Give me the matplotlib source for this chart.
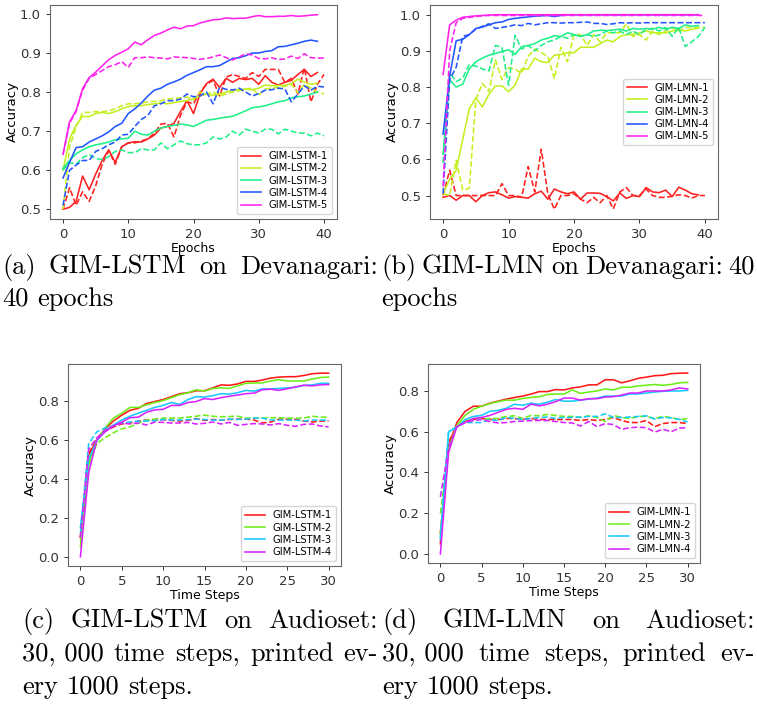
import numpy as np
import matplotlib.pyplot as plt

W, H = 757, 704

# Devanagari, GIM-LSTM (solid = train, dashed = test)
dev_lstm_train = [
    [0.500, 0.505, 0.520, 0.585, 0.550, 0.590, 0.625, 0.652, 0.620, 0.660,
     0.670, 0.673, 0.672, 0.680, 0.690, 0.708, 0.712, 0.720, 0.750, 0.778,
     0.745, 0.795, 0.822, 0.833, 0.812, 0.835, 0.825, 0.835, 0.832, 0.835,
     0.820, 0.842, 0.825, 0.818, 0.825, 0.830, 0.845, 0.858, 0.840, 0.850],
    [0.600, 0.680, 0.715, 0.738, 0.737, 0.745, 0.748, 0.745, 0.750, 0.757,
     0.763, 0.765, 0.765, 0.768, 0.770, 0.772, 0.770, 0.773, 0.776, 0.778,
     0.783, 0.790, 0.795, 0.792, 0.795, 0.800, 0.805, 0.806, 0.808, 0.806,
     0.810, 0.818, 0.816, 0.817, 0.817, 0.822, 0.833, 0.826, 0.820, 0.823],
    [0.605, 0.625, 0.642, 0.652, 0.660, 0.665, 0.668, 0.672, 0.678, 0.680,
     0.682, 0.700, 0.692, 0.690, 0.700, 0.708, 0.712, 0.715, 0.718, 0.716,
     0.712, 0.720, 0.728, 0.730, 0.733, 0.736, 0.738, 0.745, 0.752, 0.760,
     0.762, 0.765, 0.770, 0.775, 0.778, 0.785, 0.788, 0.790, 0.795, 0.800],
    [0.580, 0.620, 0.658, 0.660, 0.672, 0.680, 0.688, 0.698, 0.712, 0.720,
     0.745, 0.757, 0.772, 0.790, 0.805, 0.810, 0.820, 0.826, 0.833, 0.843,
     0.850, 0.857, 0.865, 0.865, 0.868, 0.877, 0.886, 0.888, 0.893, 0.900,
     0.900, 0.904, 0.906, 0.916, 0.917, 0.921, 0.925, 0.930, 0.933, 0.930],
    [0.641, 0.724, 0.753, 0.809, 0.837, 0.851, 0.867, 0.883, 0.894, 0.902,
     0.911, 0.928, 0.921, 0.934, 0.945, 0.951, 0.959, 0.966, 0.962, 0.969,
     0.970, 0.977, 0.981, 0.985, 0.986, 0.990, 0.988, 0.989, 0.989, 0.993,
     0.996, 0.993, 0.993, 0.994, 0.994, 0.996, 0.994, 0.995, 0.997, 0.998],
]
dev_lstm_test = [
    [0.500, 0.555, 0.510, 0.545, 0.520, 0.560, 0.615, 0.650, 0.615, 0.660,
     0.670, 0.670, 0.675, 0.680, 0.695, 0.718, 0.720, 0.685, 0.740, 0.775,
     0.770, 0.800, 0.820, 0.830, 0.790, 0.838, 0.845, 0.840, 0.835, 0.850,
     0.840, 0.858, 0.858, 0.858, 0.825, 0.835, 0.795, 0.862, 0.775, 0.820, 0.845],
    [0.500, 0.660, 0.710, 0.748, 0.748, 0.750, 0.750, 0.752, 0.757, 0.765,
     0.770, 0.770, 0.772, 0.775, 0.776, 0.778, 0.782, 0.784, 0.785, 0.787,
     0.780, 0.800, 0.795, 0.800, 0.790, 0.795, 0.800, 0.803, 0.808, 0.810,
     0.792, 0.808, 0.810, 0.812, 0.815, 0.820, 0.798, 0.820, 0.810, 0.800, 0.795],
    [0.600, 0.620, 0.615, 0.632, 0.640, 0.630, 0.627, 0.635, 0.648, 0.652,
     0.645, 0.645, 0.655, 0.652, 0.652, 0.670, 0.655, 0.665, 0.675, 0.668,
     0.665, 0.665, 0.670, 0.685, 0.680, 0.685, 0.700, 0.690, 0.705, 0.700,
     0.695, 0.705, 0.705, 0.693, 0.705, 0.700, 0.695, 0.695, 0.688, 0.695, 0.688],
    [0.510, 0.600, 0.613, 0.625, 0.625, 0.648, 0.655, 0.665, 0.672, 0.690,
     0.692, 0.712, 0.730, 0.740, 0.765, 0.770, 0.778, 0.778, 0.782, 0.795,
     0.788, 0.790, 0.800, 0.770, 0.812, 0.807, 0.805, 0.810, 0.800, 0.790,
     0.796, 0.805, 0.806, 0.810, 0.808, 0.775, 0.795, 0.816, 0.805, 0.815, 0.813],
    [0.640, 0.720, 0.750, 0.805, 0.835, 0.845, 0.855, 0.865, 0.870, 0.878,
     0.863, 0.888, 0.888, 0.890, 0.888, 0.887, 0.885, 0.890, 0.889, 0.888,
     0.886, 0.884, 0.886, 0.890, 0.895, 0.888, 0.882, 0.890, 0.898, 0.895,
     0.886, 0.885, 0.888, 0.883, 0.885, 0.892, 0.886, 0.898, 0.888, 0.887, 0.887],
]

# Devanagari, GIM-LMN
dev_lmn_train = [
    [0.495, 0.500, 0.487, 0.500, 0.500, 0.483, 0.500, 0.508, 0.510, 0.502,
     0.493, 0.497, 0.495, 0.493, 0.505, 0.512, 0.490, 0.518, 0.510, 0.505,
     0.510, 0.490, 0.507, 0.507, 0.506, 0.497, 0.485, 0.507, 0.492, 0.500,
     0.497, 0.522, 0.510, 0.508, 0.515, 0.497, 0.523, 0.515, 0.505, 0.502],
    [0.505, 0.545, 0.570, 0.655, 0.740, 0.770, 0.745, 0.780, 0.803, 0.803,
     0.787, 0.805, 0.850, 0.850, 0.880, 0.870, 0.868, 0.888, 0.890, 0.895,
     0.895, 0.910, 0.910, 0.910, 0.920, 0.930, 0.925, 0.940, 0.945, 0.945,
     0.950, 0.955, 0.950, 0.950, 0.950, 0.955, 0.958, 0.955, 0.960, 0.963],
    [0.615, 0.820, 0.800, 0.808, 0.850, 0.870, 0.880, 0.888, 0.893, 0.898,
     0.903, 0.890, 0.912, 0.915, 0.920, 0.930, 0.935, 0.942, 0.940, 0.950,
     0.945, 0.940, 0.945, 0.955, 0.957, 0.956, 0.958, 0.960, 0.955, 0.962,
     0.960, 0.962, 0.960, 0.965, 0.960, 0.965, 0.962, 0.972, 0.968, 0.970],
    [0.670, 0.830, 0.928, 0.932, 0.945, 0.962, 0.966, 0.972, 0.978, 0.980,
     0.987, 0.990, 0.992, 0.994, 0.996, 0.997, 0.998, 0.995, 0.998, 1.000,
     1.000, 1.000, 1.000, 1.000, 1.000, 1.000, 1.000, 1.000, 1.000, 1.000,
     1.000, 1.000, 1.000, 1.000, 1.000, 1.000, 1.000, 1.000, 1.000, 1.000],
    [0.835, 0.972, 0.985, 0.993, 0.995, 0.997, 0.998, 0.999, 1.000, 1.000,
     1.000, 1.000, 1.000, 1.000, 1.000, 1.000, 1.000, 1.000, 1.000, 1.000,
     1.000, 1.000, 1.000, 1.000, 1.000, 1.000, 1.000, 1.000, 1.000, 1.000,
     1.000, 1.000, 1.000, 1.000, 1.000, 1.000, 1.000, 1.000, 1.000, 1.000],
]
dev_lmn_test = [
    [0.500, 0.570, 0.500, 0.500, 0.500, 0.500, 0.500, 0.500, 0.500, 0.533,
     0.500, 0.500, 0.495, 0.580, 0.510, 0.628, 0.505, 0.462, 0.500, 0.500,
     0.505, 0.490, 0.480, 0.495, 0.480, 0.500, 0.463, 0.510, 0.522, 0.500,
     0.500, 0.518, 0.500, 0.495, 0.495, 0.498, 0.502, 0.500, 0.493, 0.500, 0.500],
    [0.505, 0.500, 0.598, 0.515, 0.520, 0.765, 0.810, 0.788, 0.875, 0.820,
     0.853, 0.850, 0.838, 0.885, 0.905, 0.895, 0.885, 0.823, 0.910, 0.870,
     0.945, 0.945, 0.915, 0.945, 0.925, 0.950, 0.950, 0.950, 0.975, 0.940,
     0.945, 0.930, 0.955, 0.945, 0.955, 0.965, 0.955, 0.965, 0.965, 0.965, 0.965],
    [0.590, 0.840, 0.815, 0.825, 0.862, 0.858, 0.850, 0.845, 0.915, 0.910,
     0.805, 0.943, 0.905, 0.915, 0.900, 0.915, 0.925, 0.930, 0.940, 0.935,
     0.945, 0.940, 0.945, 0.940, 0.945, 0.955, 0.950, 0.955, 0.945, 0.955,
     0.945, 0.960, 0.962, 0.955, 0.965, 0.940, 0.965, 0.912, 0.925, 0.940, 0.965],
    [0.505, 0.820, 0.855, 0.940, 0.945, 0.960, 0.968, 0.975, 0.962, 0.965,
     0.968, 0.972, 0.970, 0.976, 0.972, 0.975, 0.978, 0.978, 0.977, 0.978,
     0.978, 0.979, 0.980, 0.976, 0.976, 0.973, 0.975, 0.978, 0.977, 0.978,
     0.977, 0.978, 0.978, 0.978, 0.978, 0.978, 0.978, 0.978, 0.978, 0.978, 0.978],
    [0.525, 0.900, 0.978, 0.990, 0.993, 0.995, 0.997, 0.998, 0.998, 0.998,
     0.998, 0.998, 0.998, 0.998, 0.998, 0.998, 0.998, 0.998, 0.998, 0.998,
     0.998, 0.998, 0.998, 0.998, 0.998, 0.998, 0.998, 0.998, 0.998, 0.998,
     0.998, 0.998, 0.998, 0.998, 0.998, 0.998, 0.998, 0.998, 0.998, 0.998, 0.998],
]

# Audioset, GIM-LSTM
aud_lstm_train = [
    [0.100, 0.520, 0.600, 0.655, 0.695, 0.725, 0.750, 0.760, 0.785, 0.795,
     0.805, 0.820, 0.835, 0.840, 0.850, 0.850, 0.865, 0.880, 0.878, 0.885,
     0.898, 0.898, 0.905, 0.915, 0.920, 0.922, 0.922, 0.928, 0.937, 0.940, 0.940],
    [0.050, 0.480, 0.600, 0.660, 0.710, 0.735, 0.765, 0.765, 0.778, 0.790,
     0.800, 0.815, 0.830, 0.840, 0.855, 0.848, 0.862, 0.865, 0.862, 0.875,
     0.888, 0.890, 0.890, 0.900, 0.907, 0.900, 0.900, 0.900, 0.910, 0.918, 0.920],
    [0.150, 0.500, 0.595, 0.645, 0.675, 0.700, 0.720, 0.735, 0.750, 0.765,
     0.775, 0.790, 0.780, 0.805, 0.820, 0.818, 0.825, 0.835, 0.833, 0.840,
     0.852, 0.848, 0.860, 0.860, 0.862, 0.865, 0.868, 0.878, 0.880, 0.888, 0.888],
    [0.000, 0.430, 0.600, 0.640, 0.670, 0.690, 0.712, 0.715, 0.740, 0.752,
     0.755, 0.775, 0.775, 0.790, 0.795, 0.810, 0.805, 0.815, 0.822, 0.828,
     0.835, 0.838, 0.855, 0.858, 0.852, 0.860, 0.870, 0.878, 0.875, 0.880, 0.882],
]
aud_lstm_test = [
    [0.100, 0.530, 0.600, 0.645, 0.665, 0.680, 0.685, 0.695, 0.700, 0.700,
     0.702, 0.698, 0.695, 0.698, 0.708, 0.698, 0.703, 0.700, 0.703, 0.705,
     0.705, 0.700, 0.685, 0.690, 0.705, 0.705, 0.703, 0.695, 0.690, 0.695, 0.695],
    [0.080, 0.470, 0.580, 0.610, 0.635, 0.655, 0.665, 0.685, 0.700, 0.705,
     0.710, 0.710, 0.710, 0.715, 0.720, 0.725, 0.720, 0.717, 0.718, 0.720,
     0.710, 0.710, 0.710, 0.712, 0.712, 0.710, 0.710, 0.710, 0.720, 0.715, 0.715],
    [0.120, 0.580, 0.640, 0.660, 0.670, 0.685, 0.690, 0.695, 0.695, 0.697,
     0.703, 0.700, 0.700, 0.702, 0.705, 0.703, 0.700, 0.700, 0.705, 0.703,
     0.705, 0.710, 0.710, 0.700, 0.700, 0.700, 0.700, 0.695, 0.700, 0.700, 0.700],
    [0.100, 0.550, 0.610, 0.650, 0.670, 0.685, 0.680, 0.685, 0.675, 0.690,
     0.688, 0.685, 0.685, 0.688, 0.680, 0.683, 0.690, 0.680, 0.688, 0.673,
     0.678, 0.682, 0.680, 0.675, 0.682, 0.673, 0.668, 0.678, 0.680, 0.670, 0.665],
]

# Audioset, GIM-LMN
aud_lmn_train = [
    [0.050, 0.530, 0.645, 0.700, 0.725, 0.725, 0.740, 0.750, 0.760, 0.768,
     0.775, 0.785, 0.797, 0.797, 0.807, 0.805, 0.815, 0.820, 0.830, 0.830,
     0.855, 0.855, 0.840, 0.850, 0.862, 0.868, 0.875, 0.877, 0.885, 0.887, 0.888],
    [0.100, 0.520, 0.630, 0.680, 0.710, 0.725, 0.738, 0.748, 0.755, 0.755,
     0.763, 0.768, 0.772, 0.783, 0.785, 0.785, 0.805, 0.788, 0.795, 0.800,
     0.810, 0.805, 0.818, 0.818, 0.825, 0.828, 0.832, 0.828, 0.832, 0.840, 0.842],
    [0.070, 0.600, 0.620, 0.660, 0.675, 0.680, 0.700, 0.705, 0.715, 0.735,
     0.730, 0.740, 0.735, 0.745, 0.758, 0.750, 0.750, 0.755, 0.760, 0.765,
     0.775, 0.775, 0.775, 0.785, 0.785, 0.790, 0.795, 0.798, 0.800, 0.800, 0.803],
    [0.000, 0.500, 0.625, 0.645, 0.665, 0.670, 0.680, 0.695, 0.710, 0.715,
     0.710, 0.735, 0.727, 0.735, 0.748, 0.765, 0.765, 0.755, 0.762, 0.762,
     0.770, 0.772, 0.780, 0.790, 0.790, 0.800, 0.800, 0.800, 0.805, 0.815, 0.810],
]
aud_lmn_test = [
    [0.100, 0.550, 0.625, 0.650, 0.660, 0.665, 0.660, 0.660, 0.665, 0.665,
     0.660, 0.665, 0.660, 0.660, 0.660, 0.660, 0.660, 0.655, 0.660, 0.655,
     0.660, 0.670, 0.655, 0.645, 0.645, 0.655, 0.625, 0.640, 0.645, 0.645, 0.640],
    [0.200, 0.500, 0.630, 0.655, 0.660, 0.662, 0.665, 0.665, 0.675, 0.678,
     0.665, 0.680, 0.678, 0.685, 0.680, 0.675, 0.675, 0.670, 0.678, 0.670,
     0.650, 0.680, 0.670, 0.665, 0.675, 0.675, 0.665, 0.675, 0.670, 0.660, 0.665],
    [0.080, 0.600, 0.625, 0.645, 0.645, 0.645, 0.660, 0.655, 0.670, 0.665,
     0.660, 0.665, 0.670, 0.672, 0.665, 0.670, 0.670, 0.672, 0.675, 0.675,
     0.688, 0.670, 0.670, 0.672, 0.675, 0.678, 0.662, 0.670, 0.668, 0.660, 0.648],
    [0.280, 0.520, 0.625, 0.645, 0.655, 0.660, 0.650, 0.643, 0.645, 0.650,
     0.652, 0.655, 0.655, 0.655, 0.650, 0.645, 0.643, 0.628, 0.650, 0.625,
     0.640, 0.635, 0.612, 0.620, 0.622, 0.620, 0.598, 0.612, 0.600, 0.618, 0.620],
]

colors5 = ['#ff2020', '#c4f020', '#20f088', '#2255ff', '#ff22ee']
colors4 = ['#ff1818', '#6cee18', '#18c8ff', '#d822ff']


def plot_panel(rect, train, test, names, colors, xlabel, xticks, yticks, loc):
    ax = fig.add_axes(rect)
    for tr, te, name, c in zip(train, test, names, colors):
        ax.plot(np.arange(len(tr)), tr, color=c, lw=1.15, label=name)
        ax.plot(np.arange(len(te)), te, color=c, lw=1.15, ls='--')
    ax.set_xticks(xticks)
    ax.set_yticks(yticks)
    ax.set_xlabel(xlabel, fontsize=9, labelpad=1)
    ax.set_ylabel('Accuracy', fontsize=9.5, labelpad=1)
    ax.tick_params(labelsize=9.5, colors='#333333', width=0.7, length=3)
    for s in ax.spines.values():
        s.set_color('#666666')
        s.set_linewidth(0.8)
    ax.legend(loc=loc, fontsize=7.2, labelspacing=0.22, borderpad=0.4)
    return ax


def caption(lines, x0, x1, y0, step=32, size=19.0):
    # justified caption lines, last line left aligned
    r = fig.canvas.get_renderer()
    for i, words in enumerate(lines):
        y = 1 - (y0 + i * step) / H
        texts = [fig.text(0, y, w, fontfamily='cmr10', fontsize=size, va='baseline') for w in words]
        widths = [t.get_window_extent(r).width for t in texts]
        if i < len(lines) - 1 and len(words) > 1:
            gap = (x1 - x0 - sum(widths)) / (len(words) - 1)
        else:
            gap = size * 100 / 72 * 0.333
        x = x0
        for t, w in zip(texts, widths):
            t.set_x(x / W)
            x += w + gap


fig = plt.figure(figsize=(W / 100, H / 100), dpi=100)

plot_panel([50 / W, 1 - 219 / H, 287 / W, 214 / H], dev_lstm_train, dev_lstm_test,
           ['GIM-LSTM-%d' % i for i in range(1, 6)], colors5, 'Epochs',
           [0, 10, 20, 30, 40], [0.5, 0.6, 0.7, 0.8, 0.9, 1.0], 'lower right')
plot_panel([430 / W, 1 - 219 / H, 288 / W, 214 / H], dev_lmn_train, dev_lmn_test,
           ['GIM-LMN-%d' % i for i in range(1, 6)], colors5, 'Epochs',
           [0, 10, 20, 30, 40], [0.5, 0.6, 0.7, 0.8, 0.9, 1.0], 'center right')
plot_panel([68 / W, 1 - 566 / H, 273 / W, 202 / H], aud_lstm_train, aud_lstm_test,
           ['GIM-LSTM-%d' % i for i in range(1, 5)], colors4, 'Time Steps',
           [0, 5, 10, 15, 20, 25, 30], [0.0, 0.2, 0.4, 0.6, 0.8], 'lower right')
plot_panel([428 / W, 1 - 563 / H, 272 / W, 199 / H], aud_lmn_train, aud_lmn_test,
           ['GIM-LMN-%d' % i for i in range(1, 5)], colors4, 'Time Steps',
           [0, 5, 10, 15, 20, 25, 30], [0.0, 0.2, 0.4, 0.6, 0.8], 'lower right')

caption([['(a)', 'GIM-LSTM', 'on', 'Devanagari:'], ['40', 'epochs']], 2, 378, 274)
caption([['(b)', 'GIM-LMN', 'on', 'Devanagari:', '40'], ['epochs']], 381, 755, 274)
caption([['(c)', 'GIM-LSTM', 'on', 'Audioset:'],
         ['30, 000', 'time', 'steps,', 'printed', 'ev-'],
         ['ery', '1000', 'steps.']], 22, 378, 628, step=33)
caption([['(d)', 'GIM-LMN', 'on', 'Audioset:'],
         ['30, 000', 'time', 'steps,', 'printed', 'ev-'],
         ['ery', '1000', 'steps.']], 382, 755, 628, step=33)

fig.savefig('out.png', dpi=100)
